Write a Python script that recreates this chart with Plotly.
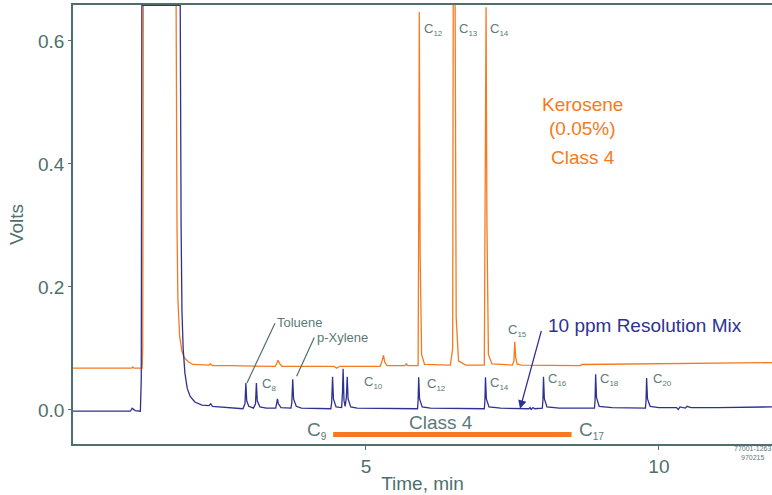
import plotly.graph_objects as go

# ---------------- data (time in min, signal in volts) ----------------
mix_pts = [
    (0.00, -0.002), (0.98, -0.002), (1.01, 0.003), (1.03, 0.001), (1.06, -0.001), (1.15, -0.002),
    (1.165, 0.05), (1.175, 0.658), (1.83, 0.658), (1.845, 0.30), (1.86, 0.16), (1.88, 0.10),
    (1.91, 0.06), (1.95, 0.035), (2.00, 0.022), (2.08, 0.013), (2.20, 0.008), (2.32, 0.007),
    (2.35, 0.010), (2.38, 0.006), (2.55, 0.005), (2.75, 0.003), (2.90, 0.002),
    (2.935, 0.010), (2.95, 0.044), (2.965, 0.015), (3.00, 0.006), (3.08, 0.003),
    (3.115, 0.010), (3.13, 0.044), (3.145, 0.015), (3.19, 0.005), (3.30, 0.003), (3.46, 0.003),
    (3.48, 0.012), (3.49, 0.018), (3.505, 0.010), (3.55, 0.004), (3.72, 0.003),
    (3.735, 0.012), (3.75, 0.050), (3.765, 0.018), (3.81, 0.006), (3.90, 0.003), (4.40, 0.002),
    (4.415, 0.012), (4.43, 0.054), (4.445, 0.018), (4.49, 0.005), (4.585, 0.004), (4.60, 0.030),
    (4.61, 0.067), (4.625, 0.015), (4.645, 0.006), (4.665, 0.020), (4.68, 0.054), (4.695, 0.018),
    (4.74, 0.005), (4.85, 0.003), (5.88, 0.002),
    (5.89, 0.015), (5.90, 0.053), (5.915, 0.018), (5.96, 0.005), (6.10, 0.003), (7.02, 0.002),
    (7.03, 0.015), (7.04, 0.053), (7.055, 0.018), (7.10, 0.005), (7.30, 0.003), (7.78, 0.002),
    (7.80, 0.004), (7.82, 0.001), (7.85, 0.004), (7.88, 0.002), (8.01, 0.003),
    (8.02, 0.015), (8.03, 0.054), (8.045, 0.018), (8.09, 0.005), (8.30, 0.003), (8.90, 0.003),
    (8.91, 0.015), (8.92, 0.058), (8.935, 0.020), (8.98, 0.006), (9.20, 0.004), (9.77, 0.003),
    (9.78, 0.015), (9.79, 0.052), (9.805, 0.018), (9.85, 0.006), (10.00, 0.004), (10.30, 0.004),
    (10.33, 0.001), (10.36, 0.005), (10.45, 0.003), (10.48, 0.006), (10.55, 0.004), (11.00, 0.004),
    (11.93, 0.005),
]

kero_pts = [
    (0.00, 0.068), (1.00, 0.068), (1.02, 0.070), (1.04, 0.068), (1.18, 0.068), (1.19, 0.10),
    (1.20, 0.658), (1.76, 0.658), (1.775, 0.30), (1.79, 0.18), (1.82, 0.12), (1.86, 0.095),
    (1.90, 0.085), (1.97, 0.078), (2.05, 0.074), (2.20, 0.073), (2.32, 0.073), (2.35, 0.075),
    (2.38, 0.072), (2.70, 0.072), (3.45, 0.071), (3.48, 0.076), (3.50, 0.081), (3.53, 0.075),
    (3.57, 0.071), (4.45, 0.071), (4.50, 0.068), (4.55, 0.071), (5.24, 0.071), (5.27, 0.078),
    (5.30, 0.089), (5.32, 0.078), (5.36, 0.072), (5.66, 0.072), (5.69, 0.075), (5.71, 0.072),
    (5.89, 0.072), (5.90, 0.30), (5.91, 0.647), (5.925, 0.25), (5.95, 0.09), (6.00, 0.074),
    (6.44, 0.073), (6.48, 0.10), (6.49, 0.70), (6.52, 0.70), (6.54, 0.15), (6.58, 0.080),
    (6.70, 0.073), (7.02, 0.073), (7.035, 0.30), (7.05, 0.655), (7.065, 0.30), (7.09, 0.09),
    (7.15, 0.075), (7.50, 0.073), (7.525, 0.080), (7.54, 0.111), (7.555, 0.085), (7.58, 0.075),
    (7.65, 0.073), (8.66, 0.072), (8.68, 0.074), (10.00, 0.075), (11.93, 0.077),
]

mix_t, mix_v = zip(*mix_pts)
kero_t, kero_v = zip(*kero_pts)

# peak labels: (text, subscript, time, volts)
kero_labels = [("C", "12", 5.95, 0.618), ("C", "13", 6.56, 0.618), ("C", "14", 7.09, 0.618),
               ("C", "15", 7.39, 0.130)]
mix_labels = [("C", "8", 3.19, 0.041), ("C", "10", 4.93, 0.044), ("C", "12", 6.01, 0.041),
              ("C", "14", 7.09, 0.043), ("C", "16", 8.08, 0.049), ("C", "18", 8.96, 0.050),
              ("C", "20", 9.86, 0.049)]
class4_range = [4.44, 8.51]
x_ticks = [5, 10]
y_ticks = [0.0, 0.2, 0.4, 0.6]

ORANGE = "#f47a20"
NAVY = "#2e3192"
AXIS = "#4f6f6c"
LABEL = "#5b7a77"
FONT = "Liberation Sans, Arial, sans-serif"

fig = go.Figure()
fig.add_trace(go.Scatter(x=kero_t, y=kero_v, mode="lines",
                         line=dict(color=ORANGE, width=1.3), showlegend=False))
fig.add_trace(go.Scatter(x=mix_t, y=mix_v, mode="lines",
                         line=dict(color=NAVY, width=1.3), showlegend=False))

ann = []
for c, s, t, v in kero_labels + mix_labels:
    ann.append(dict(x=t, y=v, xref="x", yref="y", xanchor="left", yanchor="middle",
                    showarrow=False,
                    text=f"{c}<sub><span style='font-size:8px'>{s}</span></sub>",
                    font=dict(size=13, color=LABEL, family=FONT)))

# Kerosene block
for txt, v in [("Kerosene", 0.496), ("(0.05%)", 0.457), ("Class 4", 0.411)]:
    ann.append(dict(x=8.70, y=v, xref="x", yref="y", showarrow=False, text=txt,
                    font=dict(size=19, color=ORANGE, family=FONT)))

# Toluene / p-Xylene with leader lines
ann.append(dict(x=3.45, y=0.143, xref="x", yref="y", xanchor="left", yanchor="middle",
                showarrow=False, text="Toluene", font=dict(size=13, color=LABEL, family=FONT)))
ann.append(dict(x=4.13, y=0.118, xref="x", yref="y", xanchor="left", yanchor="middle",
                showarrow=False, text="p-Xylene", font=dict(size=13, color=LABEL, family=FONT)))

shapes = [
    dict(type="line", xref="x", yref="y", x0=3.447, y0=0.141, x1=2.969, y1=0.044,
         line=dict(color=AXIS, width=1.2)),
    dict(type="line", xref="x", yref="y", x0=4.118, y0=0.118, x1=3.817, y1=0.055,
         line=dict(color=AXIS, width=1.2)),
    dict(type="line", xref="x", yref="y", x0=class4_range[0], y0=-0.0398,
         x1=class4_range[1], y1=-0.0398, line=dict(color=ORANGE, width=5)),
]

# Resolution mix label + arrow
ann.append(dict(x=8.08, y=0.138, xref="x", yref="y", xanchor="left", yanchor="middle",
                showarrow=False, text="10 ppm Resolution Mix",
                font=dict(size=19, color=NAVY, family=FONT)))
ann.append(dict(x=7.63, y=0.002, xref="x", yref="y", ax=8.0, ay=0.131, axref="x", ayref="y",
                text="", showarrow=True, arrowhead=2, arrowsize=1.3, arrowwidth=1.3,
                arrowcolor=NAVY))

# Class 4 range labels
ann.append(dict(x=6.28, y=-0.0203, xref="x", yref="y", showarrow=False, text="Class 4",
                font=dict(size=19, color=LABEL, family=FONT)))
ann.append(dict(x=3.96, y=-0.034, xref="x", yref="y", xanchor="left", showarrow=False,
                text="C<sub><span style='font-size:10px'>9</span></sub>",
                font=dict(size=19, color=LABEL, family=FONT)))
ann.append(dict(x=8.60, y=-0.034, xref="x", yref="y", xanchor="left", showarrow=False,
                text="C<sub><span style='font-size:10px'>17</span></sub>",
                font=dict(size=19, color=LABEL, family=FONT)))

# code
ann.append(dict(x=0.9728, y=-0.0205, xref="paper", yref="paper", xanchor="center",
                yanchor="middle", showarrow=False,
                text="77001-1263<br>970215", font=dict(size=7, color=LABEL, family=FONT)))

fig.update_layout(
    width=772, height=495,
    margin=dict(l=73, r=0, t=5, b=51),
    plot_bgcolor="white", paper_bgcolor="white",
    font=dict(family=FONT, color=AXIS),
    annotations=ann, shapes=shapes,
    xaxis=dict(range=[0, 11.93], tickvals=x_ticks, ticktext=[str(v) for v in x_ticks],
               showgrid=False, zeroline=False, showline=True, linecolor=AXIS, linewidth=1.5,
               mirror=True, ticks="outside", ticklen=4, tickcolor=AXIS,
               tickfont=dict(size=19, color=AXIS),
               title=dict(text="Time, min", font=dict(size=19, color=AXIS), standoff=1)),
    yaxis=dict(range=[-0.0553, 0.6585], tickvals=y_ticks,
               ticktext=[f"{v:.1f}" for v in y_ticks],
               showgrid=False, zeroline=False, showline=True, linecolor=AXIS, linewidth=1.5,
               ticks="outside", ticklen=3, tickcolor=AXIS,
               tickfont=dict(size=19, color=AXIS),
               title=dict(text="Volts", font=dict(size=19, color=AXIS), standoff=9)),
)

fig.write_html("out.html")
